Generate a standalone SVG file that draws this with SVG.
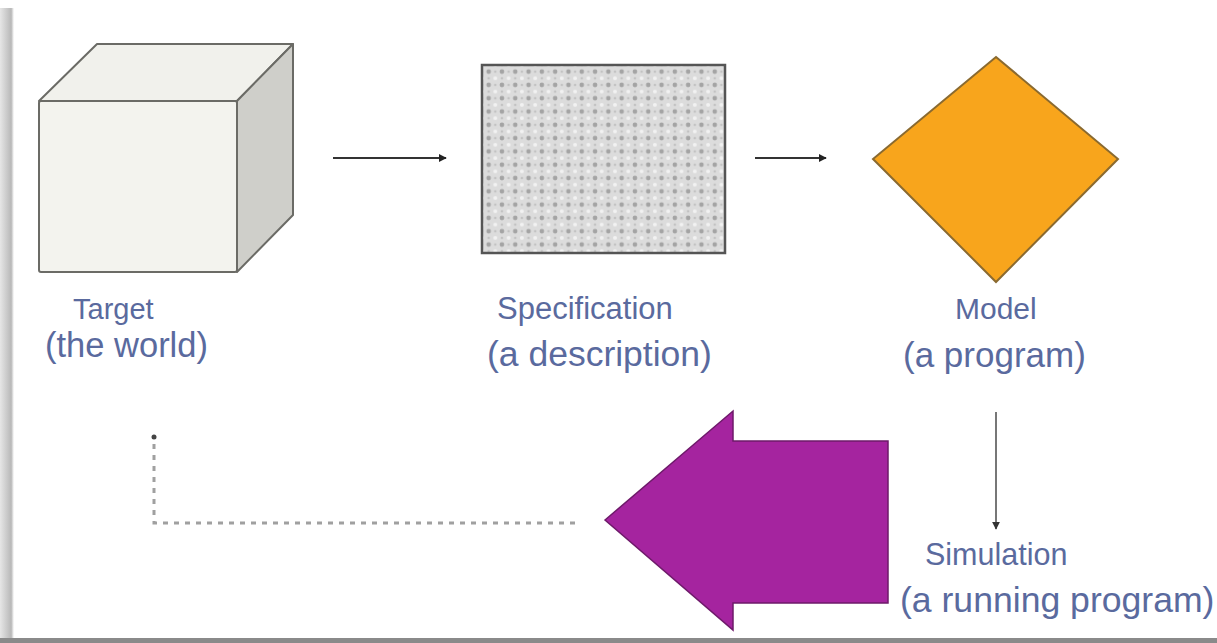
<svg xmlns="http://www.w3.org/2000/svg" width="1217" height="643" viewBox="0 0 1217 643">
<style>
.lbl{font-family:"Liberation Sans",Arial,sans-serif;fill:#5a6a9e}
.edge{stroke:#6b6b66;stroke-width:2;stroke-linejoin:round}
.conn{stroke:#333;stroke-width:2;fill:none}
</style>
<defs>
<linearGradient id="lshade" x1="0" y1="0" x2="1" y2="0">
<stop offset="0" stop-color="#e6e6e6"/>
<stop offset="0.8" stop-color="#b8b8b8"/>
<stop offset="1" stop-color="#ffffff"/>
</linearGradient>
<pattern id="dots" width="13.3" height="13.3" patternUnits="userSpaceOnUse" x="482" y="65">
<rect width="13.3" height="13.3" fill="#dcdcdc"/>
<circle cx="6.65" cy="6.65" r="2.3" fill="#a4a4a4"/>
<circle cx="0" cy="0" r="2" fill="#f2f2f2"/>
<circle cx="13.3" cy="0" r="2" fill="#f2f2f2"/>
<circle cx="0" cy="13.3" r="2" fill="#f2f2f2"/>
<circle cx="13.3" cy="13.3" r="2" fill="#f2f2f2"/>
<circle cx="6.65" cy="0" r="1.3" fill="#c2c2c2"/>
<circle cx="0" cy="6.65" r="1.3" fill="#c2c2c2"/>
<circle cx="13.3" cy="6.65" r="1.3" fill="#c2c2c2"/>
<circle cx="6.65" cy="13.3" r="1.3" fill="#c2c2c2"/>
</pattern>
<marker id="ah" viewBox="0 0 10 10" refX="9" refY="5" markerWidth="4" markerHeight="4" orient="auto" markerUnits="strokeWidth">
<path d="M0,0 L10,5 L0,10 z" fill="#222"/>
</marker>
<marker id="ahg" viewBox="0 0 10 10" refX="9" refY="5" markerWidth="4" markerHeight="4" orient="auto" markerUnits="strokeWidth">
<path d="M0,0 L10,5 L0,10 z" fill="#333"/>
</marker>
</defs>
<rect width="1217" height="643" fill="#ffffff"/>
<rect x="0" y="8" width="14" height="631" fill="url(#lshade)"/>
<rect x="0" y="638" width="1217" height="5" fill="#8a8a8a"/>

<g id="target">
<polygon class="edge" points="39,101 97,44 293,44 237,101" fill="#f1f1ec"/>
<polygon class="edge" points="237,101 293,44 293,215 237,272" fill="#cfcfca"/>
<rect class="edge" x="39" y="101" width="198" height="171" rx="2" fill="#f3f3ee"/>
<text class="lbl" x="73" y="319" font-size="29">Target</text>
<text class="lbl" x="45" y="357" font-size="34.5">(the world)</text>
</g>

<g id="specification">
<rect x="482" y="65" width="243" height="188" fill="url(#dots)" stroke="#555" stroke-width="2.5"/>
<text class="lbl" x="497" y="319" font-size="31">Specification</text>
<text class="lbl" x="487" y="366" font-size="35.5">(a description)</text>
</g>

<g id="model">
<polygon points="996,57 1118,159 996,282 873,159" fill="#f8a51c" stroke="#8a6a30" stroke-width="2"/>
<text class="lbl" x="955" y="319" font-size="30">Model</text>
<text class="lbl" x="903" y="367" font-size="35">(a program)</text>
</g>

<g id="simulation">
<polygon points="605,520 733,411 733,441 888,441 888,603 733,603 733,630" fill="#a5249f" stroke="#6e1a6a" stroke-width="1.5" stroke-linejoin="miter"/>
<text class="lbl" x="925" y="565" font-size="30.5">Simulation</text>
<text class="lbl" x="900" y="612" font-size="35.6">(a running program)</text>
</g>

<g id="connectors">
<line class="conn" x1="333" y1="158" x2="446" y2="158" marker-end="url(#ah)"/>
<line class="conn" x1="755" y1="158" x2="826" y2="158" marker-end="url(#ah)"/>
<line x1="996" y1="412" x2="996" y2="529" stroke="#777" stroke-width="2" marker-end="url(#ahg)"/>
<path d="M575,523 H154 V437" fill="none" stroke="#a0a0a0" stroke-width="3" stroke-dasharray="5 6"/>
<circle cx="154" cy="437" r="2.5" fill="#444"/>
</g>
</svg>
